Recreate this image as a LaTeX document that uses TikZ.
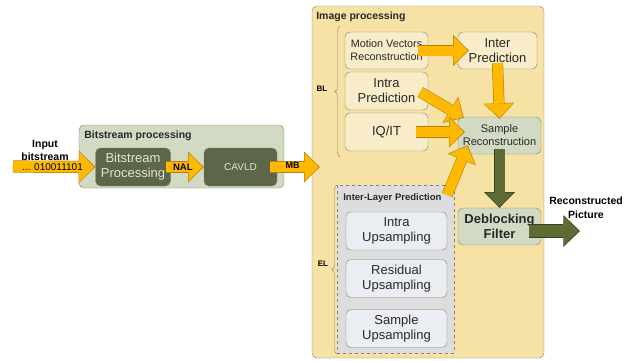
\documentclass[tikz,border=0pt]{standalone}
\usepackage{fontspec}
\setmainfont{Liberation Sans}
\usepackage{xcolor}
\usepackage{tikz}
\usetikzlibrary{arrows.meta,decorations.pathreplacing}

\definecolor{panelyellow}{RGB}{247,226,166}
\definecolor{creambox}{RGB}{248,237,200}
\definecolor{sagebox}{RGB}{210,218,196}
\definecolor{darkbox}{RGB}{92,102,72}
\definecolor{ilpgrey}{RGB}{221,221,221}
\definecolor{upbox}{RGB}{234,238,242}
\definecolor{boxline}{RGB}{130,130,104}
\definecolor{arrowyellow}{RGB}{255,185,0}
\definecolor{yellowedge}{RGB}{180,130,20}
\definecolor{arrowgreen}{RGB}{94,107,52}
\definecolor{greenedge}{RGB}{55,62,28}
\definecolor{textgrey}{RGB}{40,40,40}

\begin{document}
\begin{tikzpicture}[x=1pt,y=-1pt,semithick]
\tikzstyle{every node}=[inner sep=0pt,align=center,text=textgrey]
\tikzstyle{box}=[draw=boxline,thin,rounded corners=5pt]
\tikzstyle{cream}=[box,fill=creambox,minimum width=83pt,minimum height=37pt,
                   font=\fontsize{13}{15}\selectfont]
\tikzstyle{sage}=[box,fill=sagebox,minimum width=83pt,minimum height=37pt]
\tikzstyle{dark}=[box,fill=darkbox,minimum height=38pt,text={rgb,255:red,228;green,228;blue,218},
                  font=\fontsize{13}{15}\selectfont]
\tikzstyle{upsbox}=[box,fill=upbox,minimum width=101pt,minimum height=38pt,
                    font=\fontsize{13}{15}\selectfont]
\tikzstyle{title}=[anchor=west,font=\bfseries\fontsize{10.5}{12}\selectfont]
% fat arrows: a darker edge drawn first, the fill on top
\tikzstyle{yarrow}=[preaction={draw=yellowedge,line width=11.2pt,
                      -{Triangle[width=30.6pt 0 1,length=15.6pt 0 1,line width=0pt]}},
                    draw=arrowyellow,line width=10pt,
                    -{Triangle[width=28pt 0 1,length=14pt 0 1,line width=0pt,sep=1.1pt 0 0]}]
\tikzstyle{yarrowwide}=[preaction={draw=yellowedge,line width=12.2pt,
                      -{Triangle[width=32.6pt 0 1,length=16.6pt 0 1,line width=0pt]}},
                    draw=arrowyellow,line width=11pt,
                    -{Triangle[width=30pt 0 1,length=15pt 0 1,line width=0pt,sep=1.1pt 0 0]}]
\tikzstyle{garrow}=[preaction={draw=greenedge,line width=11.2pt,
                      -{Triangle[width=30.6pt 0 1,length=15.6pt 0 1,line width=0pt]}},
                    draw=arrowgreen,line width=10pt,
                    -{Triangle[width=28pt 0 1,length=14pt 0 1,line width=0pt,sep=1.1pt 0 0]}]
\tikzstyle{garrowwide}=[preaction={draw=greenedge,line width=13.2pt,
                      -{Triangle[width=31.6pt 0 1,length=16.6pt 0 1,line width=0pt]}},
                    draw=arrowgreen,line width=12pt,
                    -{Triangle[width=29pt 0 1,length=15pt 0 1,line width=0pt,sep=1.1pt 0 0]}]
\tikzstyle{layer}=[draw=boxline,thin,decorate,decoration={brace,amplitude=5pt}]
\useasboundingbox (0,0) rectangle (631,360);

% image processing panel
\node[box,fill=panelyellow,minimum width=232pt,minimum height=352pt] (IMG) at (428,182) {};
\node[title] (IMGL) at (316,17) {Image processing};
\node[draw=gray,thin,dashed,fill=ilpgrey,minimum width=117pt,minimum height=168pt] (ILP) at (395.5,269) {};
\node[title,font=\bfseries\fontsize{9.5}{11}\selectfont] (ILPL) at (343,198) {Inter-Layer Prediction};

% bitstream processing panel
\node[box,fill=sagebox,minimum width=205pt,minimum height=63pt] (BSP) at (181.5,156.5) {};
\node[title] (BSPL) at (84,136) {Bitstream processing};
\node[dark,minimum width=75pt] (BSB) at (133,167) {Bitstream\\Processing};
\node[dark,minimum width=73pt,font=\fontsize{10}{12}\selectfont] (CAVLD) at (240.5,167) {CAVLD};
\node[font=\bfseries\fontsize{10.5}{13}\selectfont,text=black] (INL) at (45,150) {Input\\bitstream};
\coordinate (IN) at (13,166.5);

% base layer
\node[cream,font=\fontsize{10.8}{13}\selectfont] (MVR) at (386.5,50.5) {Motion Vectors\\Reconstruction};
\node[cream,minimum width=79pt] (INTER) at (497.5,50.5) {Inter\\Prediction};
\node[cream,minimum height=38pt] (INTRA) at (386.5,91) {Intra\\Prediction};
\node[cream,minimum height=38pt] (IQIT) at (386.5,132) {IQ/IT};
\node[sage,font=\fontsize{11}{13}\selectfont] (SREC) at (499.5,135.5) {Sample\\Reconstruction};
\node[sage,font=\bfseries\fontsize{13}{15}\selectfont] (DBF) at (499.5,226.5) {Deblocking\\Filter};
\node[font=\bfseries\fontsize{10.5}{14}\selectfont,text=black] (RECL) at (586,208) {Reconstructed\\Picture};
\coordinate (OUT) at (580,231);

% enhancement layer
\node[upsbox] (IUP) at (396.5,231) {Intra\\Upsampling};
\node[upsbox] (RUP) at (396.5,278.5) {Residual\\Upsampling};
\node[upsbox] (SUP) at (396.5,328.5) {Sample\\Upsampling};

% braces
\coordinate (BLB) at (340,157); \coordinate (BLT) at (340,26);
\coordinate (ELB) at (337,354); \coordinate (ELT) at (337,185);
\draw[layer] (BLB) -- (BLT);
\draw[layer] (ELB) -- (ELT);
\node[font=\bfseries\fontsize{8}{9}\selectfont,text=black] (BL) at (322,89) {BL};
\node[font=\bfseries\fontsize{8}{9}\selectfont,text=black] (EL) at (323,264) {EL};

% arrows
\draw[yarrowwide] (IN) -- (BSB.west)
  node[pos=0.48,text=black,font=\fontsize{10}{12}\selectfont] {... 010011101};
\draw[yarrow] ([xshift=-5pt]BSB.east) -- (CAVLD.west)
  node[pos=0.45,text=black,font=\bfseries\fontsize{9.5}{11}\selectfont] {NAL};
\draw[yarrow] ([xshift=-7pt]CAVLD.east) -- ([xshift=8pt]CAVLD.east -| IMG.west)
  node[pos=0.45,yshift=2pt,text=black,font=\bfseries\fontsize{9}{11}\selectfont] {MB};
\draw[yarrow] ([xshift=-10pt]MVR.east) -- ([xshift=11pt]INTER.west);
\draw[yarrow] ([yshift=6pt]INTER.south) -- ([yshift=-2pt]SREC.north);
\draw[yarrow] ([shift={(-8pt,-1pt)}]INTRA.east) -- ([shift={(6pt,-1pt)}]SREC.north west);
\draw[yarrow] ([xshift=-12pt]IQIT.east) -- ([xshift=7pt]IQIT.east -| SREC.west);
\draw[yarrow] ([shift={(-7pt,-10pt)}]ILP.north east) -- ([shift={(10pt,9pt)}]SREC.south west);
\draw[garrow] ([yshift=5pt]SREC.south) -- (DBF.north);
\draw[garrowwide] ([shift={(-12pt,-4.5pt)}]DBF.east) -- (OUT);
\end{tikzpicture}
\end{document}
